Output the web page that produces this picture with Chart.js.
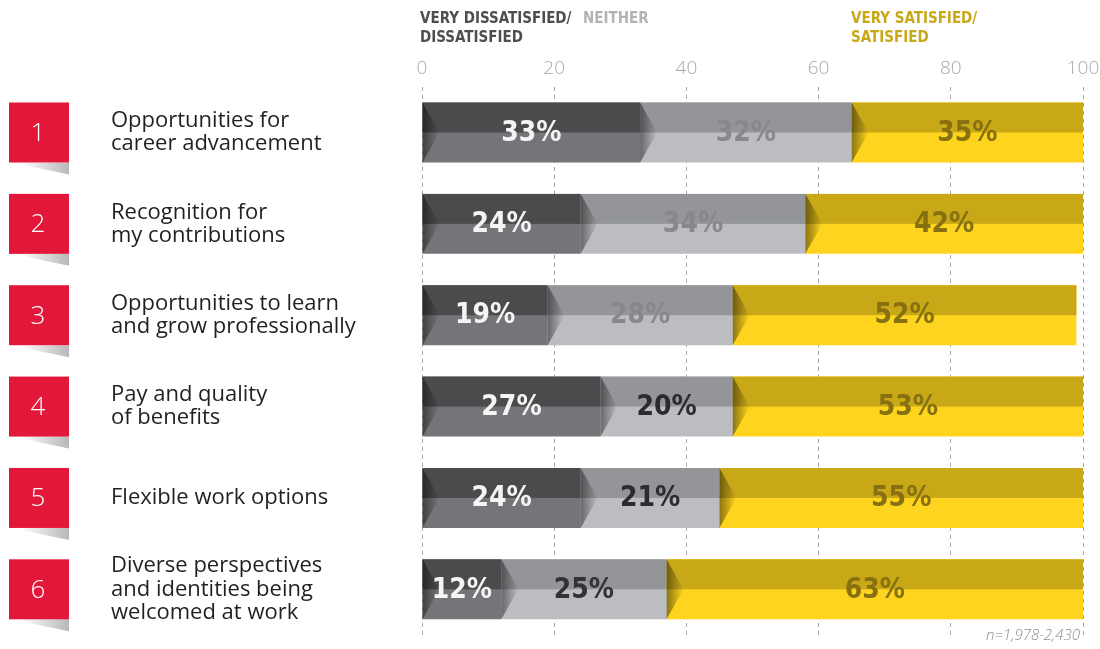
<!DOCTYPE html>
<html>
<head>
<meta charset="utf-8">
<script src="https://cdn.jsdelivr.net/npm/chart.js@4/dist/chart.umd.min.js"></script>
<style>
  html, body { margin: 0; padding: 0; background: #fff; }
  canvas { display: block; }
</style>
</head>
<body>
<canvas id="barChart" width="1100" height="649"></canvas>
<script>
const categories = [
    ['Opportunities for', 'career advancement'],
    ['Recognition for', 'my contributions'],
    ['Opportunities to learn', 'and grow professionally'],
    ['Pay and quality', 'of benefits'],
    ['Flexible work options'],
    ['Diverse perspectives', 'and identities being', 'welcomed at work']
];
const itemNumbers = ['1', '2', '3', '4', '5', '6'];
const dissatisfied = [33, 24, 19, 27, 24, 12];
const neither = [32, 34, 28, 20, 21, 25];
const satisfied = [35, 42, 52, 53, 55, 63];
const seriesNames = [
    ['VERY DISSATISFIED/', 'DISSATISFIED'],
    ['NEITHER'],
    ['VERY SATISFIED/', 'SATISFIED']
];
const sampleNote = 'n=1,978-2,430';

const condensed = "'DejaVu Sans', sans-serif";

// top half shade, start bevel and value label for every bar
const barStyle = {
    id: 'barStyle',
    afterDatasetsDraw(chart) {
        const c = chart.ctx;
        chart.data.datasets.forEach((ds, di) => {
            const meta = chart.getDatasetMeta(di);
            meta.data.forEach((bar, i) => {
                const p = bar.getProps(['x', 'y', 'base', 'height'], true);
                const left = Math.min(p.x, p.base);
                const right = Math.max(p.x, p.base);
                const top = p.y - p.height / 2;
                const bottom = p.y + p.height / 2;
                c.save();
                c.fillStyle = ds.topColor;
                c.fillRect(left, top, right - left, p.height / 2);

                const w = 17;
                const g = c.createLinearGradient(left, 0, left + w, 0);
                g.addColorStop(0, 'rgba(0,0,0,0.45)');
                g.addColorStop(1, 'rgba(0,0,0,0)');
                c.fillStyle = g;
                c.beginPath();
                c.moveTo(left, top);
                c.lineTo(left + w, p.y);
                c.lineTo(left, bottom);
                c.closePath();
                c.fill();

                c.font = "bold 28px " + condensed;
                c.fontStretch = 'condensed';
                c.fillStyle = ds.labelColors[i];
                c.textAlign = 'center';
                c.textBaseline = 'middle';
                c.fillText(ds.data[i] + '%', (left + right) / 2, p.y + 1);
                c.restore();
            });
        });
    }
};

// red number boxes, series headings and sample note
const decorations = {
    id: 'decorations',
    afterDraw(chart) {
        const c = chart.ctx;
        const yScale = chart.scales.y;
        c.save();
        itemNumbers.forEach((num, i) => {
            const cy = yScale.getPixelForValue(i);
            const top = cy - 30, bottom = cy + 30;
            const sg = c.createLinearGradient(20, 0, 69, 0);
            sg.addColorStop(0, 'rgba(0,0,0,0)');
            sg.addColorStop(1, 'rgba(0,0,0,0.28)');
            c.fillStyle = sg;
            c.beginPath();
            c.moveTo(14, bottom);
            c.lineTo(69, bottom);
            c.lineTo(69, bottom + 12);
            c.lineTo(40, bottom + 6);
            c.closePath();
            c.fill();

            c.fillStyle = '#e3173a';
            c.fillRect(9, top, 60, 60);
            c.fillStyle = '#ffffff';
            c.font = "300 26px 'Open Sans'";
            c.textAlign = 'center';
            c.textBaseline = 'middle';
            c.fillText(num, 38, cy + 1);
        });

        const headX = [420, 583, 851];
        const headColors = ['#4d4e50', '#b1b3b6', '#c9a818'];
        c.font = "bold 15px " + condensed;
        c.fontStretch = 'condensed';
        c.textAlign = 'left';
        c.textBaseline = 'middle';
        seriesNames.forEach((lines, k) => {
            c.fillStyle = headColors[k];
            lines.forEach((t, j) => c.fillText(t, headX[k], 19 + j * 19));
        });

        c.fontStretch = 'normal';
        c.font = "italic 300 15px 'Open Sans'";
        c.fillStyle = '#8a8c8f';
        c.textAlign = 'right';
        c.fillText(sampleNote, 1080, 636);
        c.restore();
    }
};

Chart.defaults.font.family = "'Open Sans', sans-serif";

const CHART = document.getElementById('barChart');

let barChart = new Chart(CHART, {
    type: 'bar',
    data: {
        labels: categories,
        datasets: [
            {
                label: 'Very dissatisfied/Dissatisfied',
                data: dissatisfied,
                backgroundColor: '#747578',
                topColor: '#4a4b4d',
                labelColors: ['#f4f4f4', '#f4f4f4', '#f4f4f4', '#f4f4f4', '#f4f4f4', '#f4f4f4'],
                barPercentage: 0.656,
                categoryPercentage: 1
            },
            {
                label: 'Neither',
                data: neither,
                backgroundColor: '#bcbdc0',
                topColor: '#939598',
                labelColors: ['#87888b', '#87888b', '#87888b', '#2c2c2e', '#2c2c2e', '#333335'],
                barPercentage: 0.656,
                categoryPercentage: 1
            },
            {
                label: 'Very satisfied/Satisfied',
                data: satisfied,
                backgroundColor: '#fed41e',
                topColor: '#c9a818',
                labelColors: ['#86700f', '#86700f', '#86700f', '#86700f', '#86700f', '#86700f'],
                barPercentage: 0.656,
                categoryPercentage: 1
            }
        ]
    },
    options: {
        responsive: false,
        animation: false,
        devicePixelRatio: 1,
        indexAxis: 'y',
        layout: { padding: { top: 50, left: 111, right: 17, bottom: 14 } },
        plugins: {
            legend: { display: false },
            tooltip: { enabled: false }
        },
        scales: {
            x: {
                position: 'top',
                stacked: true,
                min: 0,
                max: 100,
                ticks: {
                    stepSize: 20,
                    color: '#a7a9ac',
                    padding: 7,
                    font: { size: 19, weight: '300' }
                },
                grid: { color: '#a3a5a8', lineWidth: 1, drawTicks: false },
                border: { display: false, dash: [4, 4] },
                afterFit(scale) {
                    scale.paddingLeft = 0;
                    scale.paddingRight = 0;
                }
            },
            y: {
                stacked: true,
                grid: { display: false },
                border: { display: false },
                ticks: {
                    crossAlign: 'far',
                    color: '#231f20',
                    padding: 0,
                    font: { size: 22, lineHeight: 1.05 }
                },
                afterFit(scale) {
                    scale.width = 311;
                    scale.paddingTop = 0;
                    scale.paddingBottom = 0;
                }
            }
        }
    },
    plugins: [barStyle, decorations]
});
</script>
</body>
</html>
